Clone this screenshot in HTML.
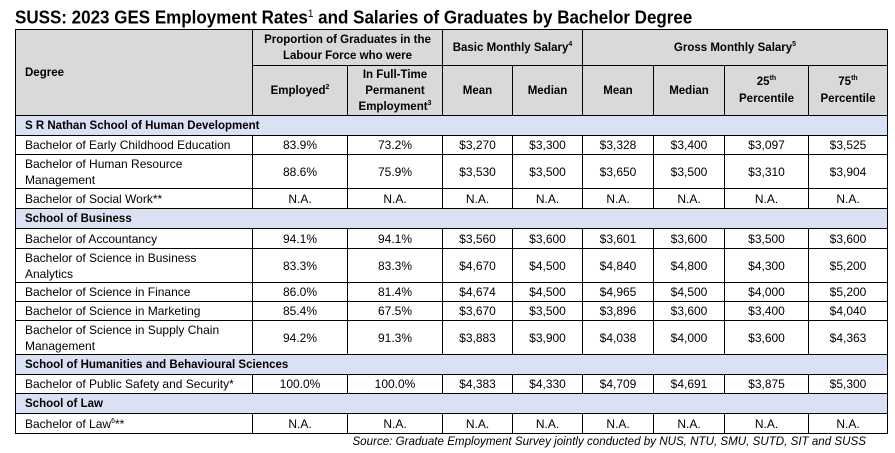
<!DOCTYPE html>
<html>
<head>
<meta charset="utf-8">
<style>
*{margin:0;padding:0;box-sizing:border-box}
html,body{width:895px;height:453px;background:#fff;overflow:hidden}
body{position:relative;font-family:"Liberation Sans",Arial,sans-serif;color:#000}
.title{position:absolute;left:15px;top:8px;font-size:17px;font-weight:bold;line-height:20px;white-space:nowrap;transform-origin:0 50%;transform:scaleY(1.06)}
.title sup{font-size:10px;line-height:0;vertical-align:6px;font-weight:normal}
.bg{position:absolute}
.h{position:absolute;height:1px;background:#000}
.v{position:absolute;width:1px;background:#000}
.c{position:absolute;display:flex;align-items:center;justify-content:center;text-align:center;font-size:12px;line-height:16px;white-space:nowrap}
.c>span{display:block}
.l{justify-content:flex-start;text-align:left;padding-left:10px}
.b{font-weight:bold;font-size:11.5px}
.c sup{font-size:7px;line-height:0;vertical-align:5px;font-weight:normal}
.b sup{font-weight:bold}
.src{position:absolute;right:29px;top:434px;font-size:11.6px;font-style:italic;line-height:16px;white-space:nowrap}
</style>
</head>
<body>
<div class="title">SUSS: 2023 GES Employment Rates<sup>1</sup> and Salaries of Graduates by Bachelor Degree</div>

<!-- backgrounds -->
<div class="bg" style="left:15px;top:29px;width:872px;height:86px;background:#d9d9d9"></div>
<div class="bg" style="left:15px;top:115px;width:872px;height:20px;background:#d9e1f2"></div>
<div class="bg" style="left:15px;top:208px;width:872px;height:20px;background:#d9e1f2"></div>
<div class="bg" style="left:15px;top:354px;width:872px;height:20px;background:#d9e1f2"></div>
<div class="bg" style="left:15px;top:393px;width:872px;height:20px;background:#d9e1f2"></div>

<!-- horizontal lines -->
<div class="h" style="left:15px;width:873px;top:29px"></div>
<div class="h" style="left:252px;width:636px;top:65px"></div>
<div class="h" style="left:15px;width:873px;top:115px"></div>
<div class="h" style="left:15px;width:873px;top:135px"></div>
<div class="h" style="left:15px;width:873px;top:154px"></div>
<div class="h" style="left:15px;width:873px;top:188px"></div>
<div class="h" style="left:15px;width:873px;top:208px"></div>
<div class="h" style="left:15px;width:873px;top:228px"></div>
<div class="h" style="left:15px;width:873px;top:248px"></div>
<div class="h" style="left:15px;width:873px;top:282px"></div>
<div class="h" style="left:15px;width:873px;top:301px"></div>
<div class="h" style="left:15px;width:873px;top:320px"></div>
<div class="h" style="left:15px;width:873px;top:354px"></div>
<div class="h" style="left:15px;width:873px;top:374px"></div>
<div class="h" style="left:15px;width:873px;top:393px"></div>
<div class="h" style="left:15px;width:873px;top:413px"></div>
<div class="h" style="left:15px;width:873px;top:433px"></div>

<!-- outer verticals -->
<div class="v" style="left:15px;top:29px;height:405px"></div>
<div class="v" style="left:887px;top:29px;height:405px"></div>

<!-- header verticals -->
<div class="v" style="left:252px;top:29px;height:86px"></div>
<div class="v" style="left:442px;top:29px;height:86px"></div>
<div class="v" style="left:582px;top:29px;height:86px"></div>
<div class="v" style="left:347px;top:65px;height:50px"></div>
<div class="v" style="left:512px;top:65px;height:50px"></div>
<div class="v" style="left:653px;top:65px;height:50px"></div>
<div class="v" style="left:724px;top:65px;height:50px"></div>
<div class="v" style="left:808px;top:65px;height:50px"></div>

<!-- data verticals -->
<div class="v" style="left:252px;top:135px;height:73px"></div>
<div class="v" style="left:347px;top:135px;height:73px"></div>
<div class="v" style="left:442px;top:135px;height:73px"></div>
<div class="v" style="left:512px;top:135px;height:73px"></div>
<div class="v" style="left:582px;top:135px;height:73px"></div>
<div class="v" style="left:653px;top:135px;height:73px"></div>
<div class="v" style="left:724px;top:135px;height:73px"></div>
<div class="v" style="left:808px;top:135px;height:73px"></div>

<div class="v" style="left:252px;top:228px;height:126px"></div>
<div class="v" style="left:347px;top:228px;height:126px"></div>
<div class="v" style="left:442px;top:228px;height:126px"></div>
<div class="v" style="left:512px;top:228px;height:126px"></div>
<div class="v" style="left:582px;top:228px;height:126px"></div>
<div class="v" style="left:653px;top:228px;height:126px"></div>
<div class="v" style="left:724px;top:228px;height:126px"></div>
<div class="v" style="left:808px;top:228px;height:126px"></div>

<div class="v" style="left:252px;top:374px;height:19px"></div>
<div class="v" style="left:347px;top:374px;height:19px"></div>
<div class="v" style="left:442px;top:374px;height:19px"></div>
<div class="v" style="left:512px;top:374px;height:19px"></div>
<div class="v" style="left:582px;top:374px;height:19px"></div>
<div class="v" style="left:653px;top:374px;height:19px"></div>
<div class="v" style="left:724px;top:374px;height:19px"></div>
<div class="v" style="left:808px;top:374px;height:19px"></div>

<div class="v" style="left:252px;top:413px;height:20px"></div>
<div class="v" style="left:347px;top:413px;height:20px"></div>
<div class="v" style="left:442px;top:413px;height:20px"></div>
<div class="v" style="left:512px;top:413px;height:20px"></div>
<div class="v" style="left:582px;top:413px;height:20px"></div>
<div class="v" style="left:653px;top:413px;height:20px"></div>
<div class="v" style="left:724px;top:413px;height:20px"></div>
<div class="v" style="left:808px;top:413px;height:20px"></div>

<!-- header text -->
<div class="c l b" style="left:15px;top:30px;width:237px;height:85px"><span>Degree</span></div>
<div class="c b" style="left:253px;top:30px;width:189px;height:35px"><span>Proportion of Graduates in the<br>Labour Force who were</span></div>
<div class="c b" style="left:443px;top:30px;width:139px;height:35px"><span>Basic Monthly Salary<sup>4</sup></span></div>
<div class="c b" style="left:583px;top:30px;width:304px;height:35px"><span>Gross Monthly Salary<sup>5</sup></span></div>
<div class="c b" style="left:253px;top:66px;width:94px;height:49px"><span>Employed<sup>2</sup></span></div>
<div class="c b" style="left:348px;top:66px;width:94px;height:49px"><span>In Full-Time<br>Permanent<br>Employment<sup>3</sup></span></div>
<div class="c b" style="left:443px;top:66px;width:69px;height:49px"><span>Mean</span></div>
<div class="c b" style="left:513px;top:66px;width:69px;height:49px"><span>Median</span></div>
<div class="c b" style="left:583px;top:66px;width:70px;height:49px"><span>Mean</span></div>
<div class="c b" style="left:654px;top:66px;width:70px;height:49px"><span>Median</span></div>
<div class="c b" style="left:725px;top:66px;width:83px;height:49px;line-height:17px"><span>25<sup>th</sup><br>Percentile</span></div>
<div class="c b" style="left:809px;top:66px;width:78px;height:49px;line-height:17px"><span>75<sup>th</sup><br>Percentile</span></div>

<!-- section rows -->
<div class="c l b" style="left:15px;top:116px;width:600px;height:19px"><span>S R Nathan School of Human Development</span></div>
<div class="c l b" style="left:15px;top:209px;width:600px;height:19px"><span>School of Business</span></div>
<div class="c l b" style="left:15px;top:355px;width:600px;height:19px"><span>School of Humanities and Behavioural Sciences</span></div>
<div class="c l b" style="left:15px;top:394px;width:600px;height:19px"><span>School of Law</span></div>

<!-- Row: Early Childhood -->
<div class="c l" style="left:15px;top:136px;width:237px;height:18px">Bachelor of Early Childhood Education</div>
<div class="c" style="left:253px;top:136px;width:94px;height:18px">83.9%</div>
<div class="c" style="left:348px;top:136px;width:94px;height:18px">73.2%</div>
<div class="c" style="left:443px;top:136px;width:69px;height:18px">$3,270</div>
<div class="c" style="left:513px;top:136px;width:69px;height:18px">$3,300</div>
<div class="c" style="left:583px;top:136px;width:70px;height:18px">$3,328</div>
<div class="c" style="left:654px;top:136px;width:70px;height:18px">$3,400</div>
<div class="c" style="left:725px;top:136px;width:83px;height:18px">$3,097</div>
<div class="c" style="left:809px;top:136px;width:78px;height:18px">$3,525</div>

<!-- Row: HR -->
<div class="c l" style="left:15px;top:155px;width:237px;height:33px"><span>Bachelor of Human Resource<br>Management</span></div>
<div class="c" style="left:253px;top:155px;width:94px;height:33px">88.6%</div>
<div class="c" style="left:348px;top:155px;width:94px;height:33px">75.9%</div>
<div class="c" style="left:443px;top:155px;width:69px;height:33px">$3,530</div>
<div class="c" style="left:513px;top:155px;width:69px;height:33px">$3,500</div>
<div class="c" style="left:583px;top:155px;width:70px;height:33px">$3,650</div>
<div class="c" style="left:654px;top:155px;width:70px;height:33px">$3,500</div>
<div class="c" style="left:725px;top:155px;width:83px;height:33px">$3,310</div>
<div class="c" style="left:809px;top:155px;width:78px;height:33px">$3,904</div>

<!-- Row: Social Work -->
<div class="c l" style="left:15px;top:189px;width:237px;height:19px">Bachelor of Social Work**</div>
<div class="c" style="left:253px;top:189px;width:94px;height:19px">N.A.</div>
<div class="c" style="left:348px;top:189px;width:94px;height:19px">N.A.</div>
<div class="c" style="left:443px;top:189px;width:69px;height:19px">N.A.</div>
<div class="c" style="left:513px;top:189px;width:69px;height:19px">N.A.</div>
<div class="c" style="left:583px;top:189px;width:70px;height:19px">N.A.</div>
<div class="c" style="left:654px;top:189px;width:70px;height:19px">N.A.</div>
<div class="c" style="left:725px;top:189px;width:83px;height:19px">N.A.</div>
<div class="c" style="left:809px;top:189px;width:78px;height:19px">N.A.</div>

<!-- Row: Accountancy -->
<div class="c l" style="left:15px;top:229px;width:237px;height:19px">Bachelor of Accountancy</div>
<div class="c" style="left:253px;top:229px;width:94px;height:19px">94.1%</div>
<div class="c" style="left:348px;top:229px;width:94px;height:19px">94.1%</div>
<div class="c" style="left:443px;top:229px;width:69px;height:19px">$3,560</div>
<div class="c" style="left:513px;top:229px;width:69px;height:19px">$3,600</div>
<div class="c" style="left:583px;top:229px;width:70px;height:19px">$3,601</div>
<div class="c" style="left:654px;top:229px;width:70px;height:19px">$3,600</div>
<div class="c" style="left:725px;top:229px;width:83px;height:19px">$3,500</div>
<div class="c" style="left:809px;top:229px;width:78px;height:19px">$3,600</div>

<!-- Row: Business Analytics -->
<div class="c l" style="left:15px;top:249px;width:237px;height:33px"><span>Bachelor of Science in Business<br>Analytics</span></div>
<div class="c" style="left:253px;top:249px;width:94px;height:33px">83.3%</div>
<div class="c" style="left:348px;top:249px;width:94px;height:33px">83.3%</div>
<div class="c" style="left:443px;top:249px;width:69px;height:33px">$4,670</div>
<div class="c" style="left:513px;top:249px;width:69px;height:33px">$4,500</div>
<div class="c" style="left:583px;top:249px;width:70px;height:33px">$4,840</div>
<div class="c" style="left:654px;top:249px;width:70px;height:33px">$4,800</div>
<div class="c" style="left:725px;top:249px;width:83px;height:33px">$4,300</div>
<div class="c" style="left:809px;top:249px;width:78px;height:33px">$5,200</div>

<!-- Row: Finance -->
<div class="c l" style="left:15px;top:283px;width:237px;height:18px">Bachelor of Science in Finance</div>
<div class="c" style="left:253px;top:283px;width:94px;height:18px">86.0%</div>
<div class="c" style="left:348px;top:283px;width:94px;height:18px">81.4%</div>
<div class="c" style="left:443px;top:283px;width:69px;height:18px">$4,674</div>
<div class="c" style="left:513px;top:283px;width:69px;height:18px">$4,500</div>
<div class="c" style="left:583px;top:283px;width:70px;height:18px">$4,965</div>
<div class="c" style="left:654px;top:283px;width:70px;height:18px">$4,500</div>
<div class="c" style="left:725px;top:283px;width:83px;height:18px">$4,000</div>
<div class="c" style="left:809px;top:283px;width:78px;height:18px">$5,200</div>

<!-- Row: Marketing -->
<div class="c l" style="left:15px;top:302px;width:237px;height:18px">Bachelor of Science in Marketing</div>
<div class="c" style="left:253px;top:302px;width:94px;height:18px">85.4%</div>
<div class="c" style="left:348px;top:302px;width:94px;height:18px">67.5%</div>
<div class="c" style="left:443px;top:302px;width:69px;height:18px">$3,670</div>
<div class="c" style="left:513px;top:302px;width:69px;height:18px">$3,500</div>
<div class="c" style="left:583px;top:302px;width:70px;height:18px">$3,896</div>
<div class="c" style="left:654px;top:302px;width:70px;height:18px">$3,600</div>
<div class="c" style="left:725px;top:302px;width:83px;height:18px">$3,400</div>
<div class="c" style="left:809px;top:302px;width:78px;height:18px">$4,040</div>

<!-- Row: Supply Chain -->
<div class="c l" style="left:15px;top:321px;width:237px;height:33px"><span>Bachelor of Science in Supply Chain<br>Management</span></div>
<div class="c" style="left:253px;top:321px;width:94px;height:33px">94.2%</div>
<div class="c" style="left:348px;top:321px;width:94px;height:33px">91.3%</div>
<div class="c" style="left:443px;top:321px;width:69px;height:33px">$3,883</div>
<div class="c" style="left:513px;top:321px;width:69px;height:33px">$3,900</div>
<div class="c" style="left:583px;top:321px;width:70px;height:33px">$4,038</div>
<div class="c" style="left:654px;top:321px;width:70px;height:33px">$4,000</div>
<div class="c" style="left:725px;top:321px;width:83px;height:33px">$3,600</div>
<div class="c" style="left:809px;top:321px;width:78px;height:33px">$4,363</div>

<!-- Row: Public Safety -->
<div class="c l" style="left:15px;top:375px;width:237px;height:18px">Bachelor of Public Safety and Security*</div>
<div class="c" style="left:253px;top:375px;width:94px;height:18px">100.0%</div>
<div class="c" style="left:348px;top:375px;width:94px;height:18px">100.0%</div>
<div class="c" style="left:443px;top:375px;width:69px;height:18px">$4,383</div>
<div class="c" style="left:513px;top:375px;width:69px;height:18px">$4,330</div>
<div class="c" style="left:583px;top:375px;width:70px;height:18px">$4,709</div>
<div class="c" style="left:654px;top:375px;width:70px;height:18px">$4,691</div>
<div class="c" style="left:725px;top:375px;width:83px;height:18px">$3,875</div>
<div class="c" style="left:809px;top:375px;width:78px;height:18px">$5,300</div>

<!-- Row: Law -->
<div class="c l" style="left:15px;top:414px;width:237px;height:19px"><span>Bachelor of Law<sup>6</sup>**</span></div>
<div class="c" style="left:253px;top:414px;width:94px;height:19px">N.A.</div>
<div class="c" style="left:348px;top:414px;width:94px;height:19px">N.A.</div>
<div class="c" style="left:443px;top:414px;width:69px;height:19px">N.A.</div>
<div class="c" style="left:513px;top:414px;width:69px;height:19px">N.A.</div>
<div class="c" style="left:583px;top:414px;width:70px;height:19px">N.A.</div>
<div class="c" style="left:654px;top:414px;width:70px;height:19px">N.A.</div>
<div class="c" style="left:725px;top:414px;width:83px;height:19px">N.A.</div>
<div class="c" style="left:809px;top:414px;width:78px;height:19px">N.A.</div>

<div class="src">Source: Graduate Employment Survey jointly conducted by NUS, NTU, SMU, SUTD, SIT and SUSS</div>
</body>
</html>
